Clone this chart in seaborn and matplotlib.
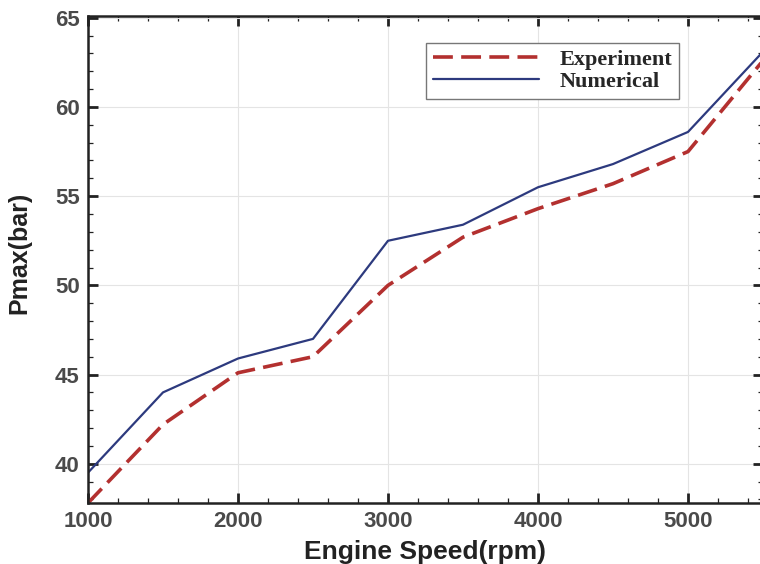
import matplotlib
matplotlib.use("Agg")
import matplotlib.pyplot as plt
import seaborn as sns
import pandas as pd
from matplotlib.ticker import MultipleLocator

speed = [1000, 1500, 2000, 2500, 3000, 3500, 4000, 4500, 5000, 5500]
experiment = [37.8, 42.2, 45.1, 46.0, 50.0, 52.7, 54.3, 55.7, 57.5, 62.6]
numerical = [39.5, 44.0, 45.9, 47.0, 52.5, 53.4, 55.5, 56.8, 58.6, 63.1]

sns.set_theme(style="whitegrid")
plt.rcParams['font.family'] = ['Liberation Sans', 'DejaVu Sans']

fig = plt.figure(figsize=(7.6, 5.64), dpi=100)
W, H = 760, 564
left, right, top, bottom = 88, 763, 16, 503
aw, ah = right - left, bottom - top
ax = fig.add_axes([left / W, 1 - bottom / H, aw / W, ah / H])

df_e = pd.DataFrame({"speed": speed, "p": experiment})
df_n = pd.DataFrame({"speed": speed, "p": numerical})
sns.lineplot(data=df_e, x="speed", y="p", ax=ax, color="#b3302f", lw=2.6,
             dashes=False, label="Experiment", linestyle=(0, (5.5, 2.3)))
sns.lineplot(data=df_n, x="speed", y="p", ax=ax, color="#2d3a7e", lw=1.6,
             label="Numerical")

ax.set_xlim(1000, 5500)
ax.set_ylim(37.8, 65.1)
ax.xaxis.set_major_locator(MultipleLocator(1000))
ax.xaxis.set_minor_locator(MultipleLocator(200))
ax.yaxis.set_major_locator(MultipleLocator(5))
ax.yaxis.set_minor_locator(MultipleLocator(1))
ax.grid(True, which="major", color="#e4e4e4", lw=0.8)
ax.grid(False, which="minor")
ax.set_facecolor("white")
for s in ax.spines.values():
    s.set_color("#222222")
    s.set_linewidth(1.8)
ax.tick_params(which="both", direction="in", top=True, right=True, left=True, bottom=True,
               color="#222222")
ax.tick_params(which="major", length=7, width=2.0, labelsize=16, labelcolor="#4a4a4a", pad=6)
ax.tick_params(which="minor", length=3.5, width=0.9)
for lbl in ax.get_xticklabels() + ax.get_yticklabels():
    lbl.set_fontweight("bold")

ax.set_xlabel("Engine Speed(rpm)", fontsize=19, fontweight="bold", color="#222222")
ax.xaxis.set_label_coords((425 - left) / aw, -(540 - bottom) / ah)
ax.set_ylabel("Pmax(bar)", fontsize=18, fontweight="bold", color="#222222")
ax.yaxis.set_label_coords(-(left - 31) / aw, (bottom - 253) / ah)

leg = ax.legend(loc="upper left", bbox_to_anchor=((426 - left) / aw, 1 - (43 - top) / ah),
                frameon=True, fancybox=False, edgecolor="#777777", framealpha=1,
                prop={"family": "Liberation Serif", "weight": "bold", "size": 16},
                handlelength=4.8, handletextpad=0.9, borderpad=0.3, labelspacing=0.05,
                borderaxespad=0)
leg.get_frame().set_linewidth(1.0)

fig.savefig("out.png", dpi=100)
